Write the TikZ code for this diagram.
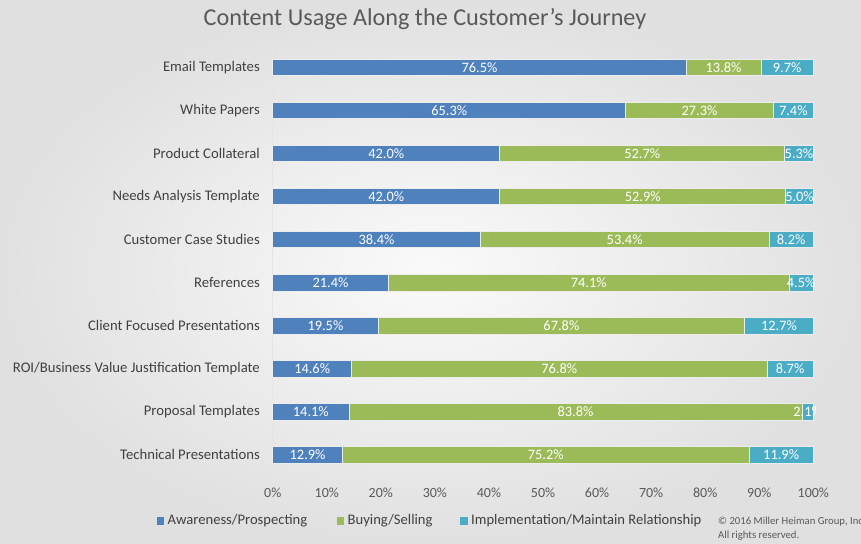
\documentclass[tikz,border=0pt]{standalone}
\usepackage{fontspec}
\setmainfont{Carlito}
\definecolor{cblue}{HTML}{4F81BD}
\definecolor{cgreen}{HTML}{9BBB59}
\definecolor{cteal}{HTML}{4BACC6}
\definecolor{txtgray}{HTML}{404040}
\definecolor{titlegray}{HTML}{595959}
\newcommand\chartrow[5]{%
  \pgfmathsetmacro\yc{67.3+43.06*#1}%
  \pgfmathsetmacro\xb{272.7+5.406*#3}%
  \pgfmathsetmacro\xc{272.7+5.406*(#3+#4)}%
  \node[cat] (cat#1) at (260,\yc) {#2};
  \fill[cblue] (272.7,\yc-8.25) rectangle (\xb,\yc+8.25);
  \fill[cgreen] (\xb,\yc-8.25) rectangle (\xc,\yc+8.25);
  \fill[cteal] (\xc,\yc-8.25) rectangle (813.3,\yc+8.25);
  \draw[seg] (272.7,\yc-8.25) rectangle (\xb,\yc+8.25);
  \draw[seg] (\xb,\yc-8.25) rectangle (\xc,\yc+8.25);
  \draw[seg] (\xc,\yc-8.25) rectangle (813.3,\yc+8.25);
  \begin{scope}
    \clip (0,0) rectangle (815,543);
    \node[lbl] (a#1) at ({(272.7+\xb)/2},\yc) {#3\%};
    \node[lbl] (b#1) at ({(\xb+\xc)/2},\yc) {#4\%};
    \node[lbl] (c#1) at ({(\xc+813.3)/2},\yc) {#5\%};
  \end{scope}
}
\begin{document}
\begin{tikzpicture}[x=1pt,y=-1pt,
  seg/.style={draw=white!85!gray, line width=0.6pt},
  lbl/.style={text=white, inner sep=0pt, font=\fontsize{14.4}{15}\selectfont},
  cat/.style={anchor=east, inner sep=0pt, text=txtgray, font=\fontsize{14.7}{15}\selectfont},
  tick/.style={inner sep=0pt, text=titlegray, font=\fontsize{14}{15}\selectfont},
  legtxt/.style={anchor=west, inner sep=0pt, text=txtgray, font=\fontsize{14.6}{15}\selectfont},
  legsq/.style={minimum size=7.5pt, inner sep=0pt}]
\useasboundingbox (0,0) rectangle (861,543);
\shade[inner color=white!96!gray, outer color=gray!24] (0,0) rectangle (861,543);
\node[text=titlegray, font=\fontsize{24.2}{28}\selectfont] (title) at (425,19) {Content Usage Along the Customer’s Journey};
\draw[white!80!gray, line width=0.8pt] (272.7,48) -- (272.7,476);
\chartrow{0}{Email Templates}{76.5}{13.8}{9.7}
\chartrow{1}{White Papers}{65.3}{27.3}{7.4}
\chartrow{2}{Product Collateral}{42.0}{52.7}{5.3}
\chartrow{3}{Needs Analysis Template}{42.0}{52.9}{5.0}
\chartrow{4}{Customer Case Studies}{38.4}{53.4}{8.2}
\chartrow{5}{References}{21.4}{74.1}{4.5}
\chartrow{6}{Client Focused Presentations}{19.5}{67.8}{12.7}
\chartrow{7}{ROI/Business Value Justification Template}{14.6}{76.8}{8.7}
\chartrow{8}{Proposal Templates}{14.1}{83.8}{2.1}
\chartrow{9}{Technical Presentations}{12.9}{75.2}{11.9}
\foreach \k in {0,...,10}{
  \pgfmathtruncatemacro\pct{10*\k}
  \node[tick] (t\k) at ({272.7+54.06*\k},493) {\pct\%};
}
\node[legsq, fill=cblue] (s1) at (160.5,521) {};
\node[legtxt] (l1) at (167.5,521) {Awareness/Prospecting};
\node[legsq, fill=cgreen] (s2) at (340.5,521) {};
\node[legtxt] (l2) at (347.5,521) {Buying/Selling};
\node[legsq, fill=cteal] (s3) at (464,521) {};
\node[legtxt] (l3) at (471,521) {Implementation/Maintain Relationship};
\node[anchor=west, inner sep=0pt, align=left, text=titlegray, font=\fontsize{10.7}{14}\selectfont] (copy) at (718,529) {© 2016 Miller Heiman Group, Inc.\\All rights reserved.};
\end{tikzpicture}
\end{document}
